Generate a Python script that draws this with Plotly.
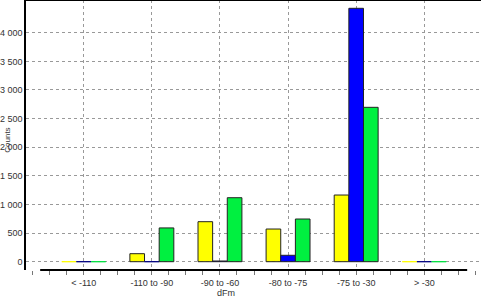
import plotly.graph_objects as go

categories = ["< -110", "-110 to -90", "-90 to -60", "-80 to -75", "-75 to -30", "> -30"]
yellow_vals = [0, 140, 699, 571, 1165, 0]
blue_vals = [0, 0, 12, 112, 4427, 0]
green_vals = [0, 590, 1118, 746, 2697, 0]

y_ticks = [0, 500, 1000, 1500, 2000, 2500, 3000, 3500, 4000]

xpos = list(range(len(categories)))

def line_colors(vals, zero_color):
    return [zero_color if v == 0 else "#222222" for v in vals]

fig = go.Figure()
series = [
    (yellow_vals, "#FFFF00", "#FFFF00"),
    (blue_vals, "#0000FF", "#000080"),
    (green_vals, "#00F040", "#00E040"),
]
for vals, col, zc in series:
    fig.add_trace(go.Bar(
        x=xpos, y=vals,
        marker=dict(color=col, line=dict(color=line_colors(vals, zc), width=1)),
        width=0.215,
    ))

fig.update_layout(
    width=481, height=299,
    margin=dict(l=24, r=0, t=0, b=29),
    barmode="group", bargap=0.355, bargroupgap=0,
    plot_bgcolor="white", paper_bgcolor="white",
    showlegend=False,
    separators=". ",
    font=dict(family="Liberation Sans Narrow, Arial Narrow, Liberation Sans, sans-serif", size=9, color="#333333"),
)
fig.update_xaxes(
    range=[-0.848, 5.833],
    tickvals=xpos, ticktext=categories,
    showgrid=True, gridcolor="#999999", griddash="3px,3px", gridwidth=1,
    ticks="outside", ticklen=4, tickcolor="#777777",
    minor=dict(dtick=0.25, tick0=0, ticks="outside", ticklen=4, tickcolor="#777777", showgrid=False),
    showline=False, zeroline=False,
    tickfont=dict(size=9),
)
fig.update_yaxes(
    range=[-145, 4572],
    tickvals=y_ticks, tickformat=",d",
    showgrid=True, gridcolor="#999999", griddash="3px,3px", gridwidth=1,
    showline=True, linecolor="black", linewidth=1.5,
    zeroline=False, ticks="", ticklen=0,
    tickfont=dict(size=9),
)
# axis decorations
fig.add_shape(type="line", xref="x", yref="paper", x0=-0.64, x1=5.63, y0=0, y1=0,
              line=dict(color="black", width=2))
fig.add_shape(type="line", xref="paper", yref="paper", x0=0, x1=1, y0=1, y1=1,
              line=dict(color="black", width=2))
fig.add_annotation(text="Counts", xref="paper", yref="paper", x=-0.041, y=0.48,
                   xanchor="center", yanchor="middle",
                   textangle=-90, showarrow=False, font=dict(size=8))
fig.add_annotation(text="dFm", xref="paper", yref="paper", x=(225 - 24) / 457, y=-0.085,
                   yanchor="middle", showarrow=False, font=dict(size=9))

fig.write_html("out.html")
